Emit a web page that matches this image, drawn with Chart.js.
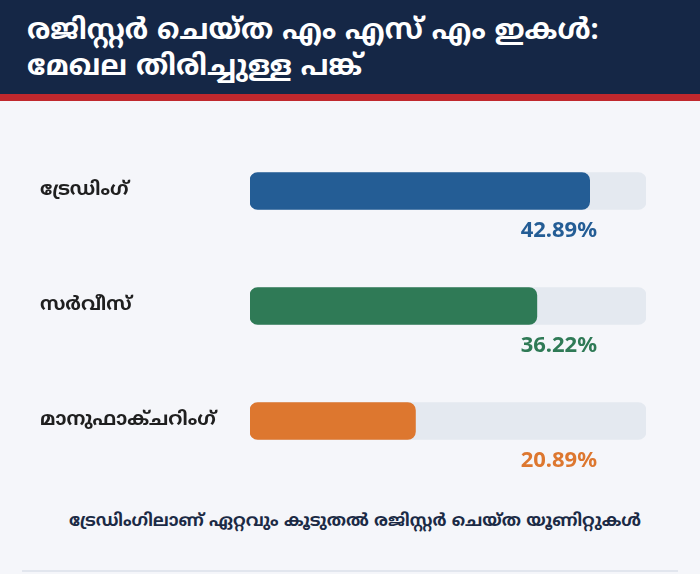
<!DOCTYPE html>
<html>
<head>
<meta charset="utf-8">
<script src="https://cdn.jsdelivr.net/npm/chart.js@4.4.1/dist/chart.umd.min.js"></script>
<style>
  html, body { margin:0; padding:0; width:700px; height:574px; overflow:hidden; background:#f5f6fa; font-family:"Noto Sans Malayalam","Noto Sans",sans-serif; }
  #header { position:absolute; left:0; top:0; width:700px; height:94px; background:#152746; }
  #stripe { position:absolute; left:0; top:94px; width:700px; height:7px; background:#c0282d; }
  #title { position:absolute; left:27px; top:14px; color:#fff; font-weight:700; font-size:28.5px; line-height:36px; margin:0; white-space:nowrap; }
  #wrap { position:absolute; left:0; top:101px; width:700px; height:400px; }
  #footer { position:absolute; left:0; top:511px; width:710px; text-align:center; color:#1b2a45; font-weight:700; font-size:17px; white-space:nowrap; }
  #rule { position:absolute; left:22px; top:570px; width:656px; height:2px; background:#e2e6ee; }
</style>
</head>
<body>
<div id="header"><h1 id="title">രജിസ്റ്റർ ചെയ്ത എം എസ് എം ഇകൾ:<br>മേഖല തിരിച്ചുള്ള പങ്ക്</h1></div>
<div id="stripe"></div>
<div id="wrap"><canvas id="c"></canvas></div>
<div id="footer">ട്രേഡിംഗിലാണ് ഏറ്റവും കൂടുതൽ രജിസ്റ്റർ ചെയ്ത യൂണിറ്റുകൾ</div>
<div id="rule"></div>
<script>
const categories = ["ട്രേഡിംഗ്", "സർവീസ്", "മാനുഫാക്ചറിംഗ്"];
const shares = [42.89, 36.22, 20.89];
const trackMax = [50, 50, 50];
const barColors = ["#245d95", "#2f7a56", "#dd772f"];

const pctLabels = {
  id: 'pctLabels',
  afterDatasetsDraw(chart) {
    const ctx = chart.ctx;
    const ys = chart.scales.y;
    ctx.save();
    ctx.font = '700 22px "Noto Sans", sans-serif';
    ctx.textAlign = 'right';
    ctx.textBaseline = 'middle';
    shares.forEach((v, i) => {
      ctx.fillStyle = barColors[i];
      ctx.fillText(v.toFixed(2) + '%', chart.chartArea.right - 49, ys.getPixelForValue(i) + 40);
    });
    ctx.restore();
  }
};

new Chart(document.getElementById('c'), {
  type: 'bar',
  data: {
    labels: categories,
    datasets: [
      { data: shares, backgroundColor: barColors, grouped: false, order: 1, barThickness: 37, borderRadius: 8, borderSkipped: false },
      { data: trackMax, backgroundColor: '#e4e9f0', grouped: false, order: 2, barThickness: 37, borderRadius: 8, borderSkipped: false }
    ]
  },
  options: {
    indexAxis: 'y',
    responsive: true,
    maintainAspectRatio: false,
    animation: false,
    events: [],
    layout: { padding: { top: 32.5, bottom: 22.5, left: 40, right: 54 } },
    plugins: { legend: { display: false }, tooltip: { enabled: false } },
    scales: {
      x: { display: false, min: 0, max: 50 },
      y: {
        grid: { display: false },
        border: { display: false },
        afterFit(scale) { scale.width = 210; },
        ticks: {
          crossAlign: 'far',
          color: '#1f1f1f',
          font: { family: '"Noto Sans Malayalam","Noto Sans",sans-serif', size: 19, weight: '700' },
          padding: 0
        }
      }
    }
  },
  plugins: [pctLabels]
});
</script>
</body>
</html>
